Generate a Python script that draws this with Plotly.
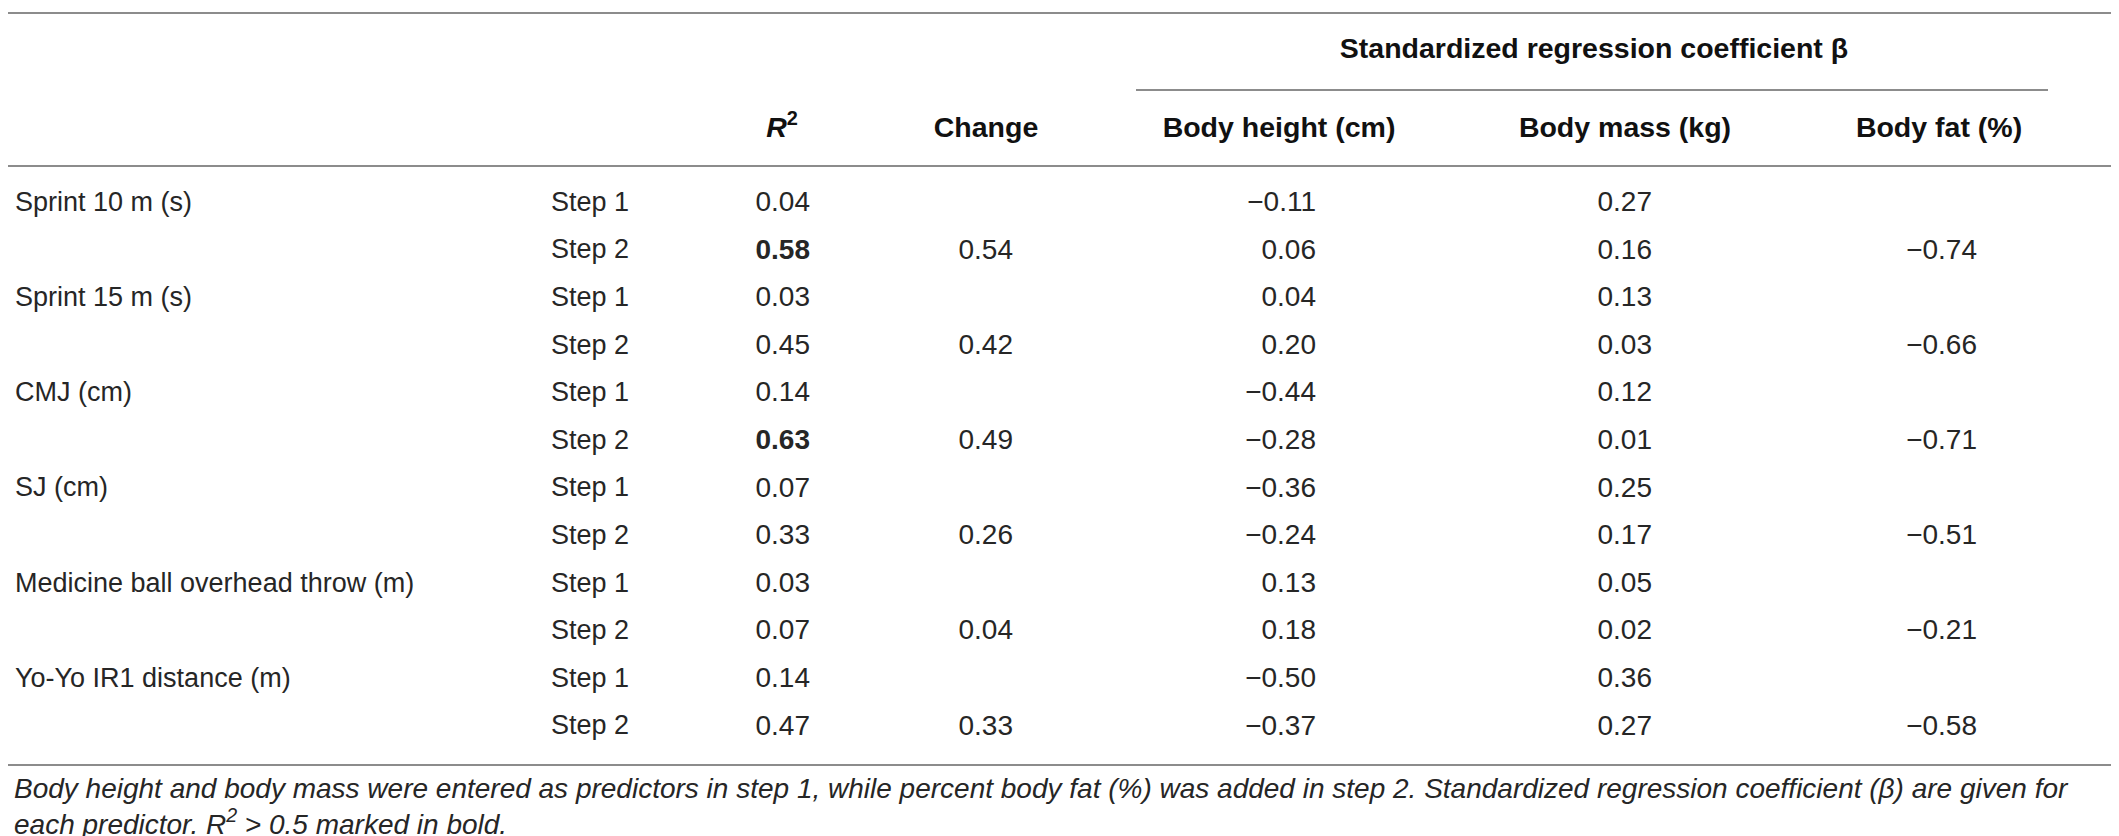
import plotly.graph_objects as go

# table content
measures = ["Sprint 10 m (s)", "Sprint 15 m (s)", "CMJ (cm)", "SJ (cm)",
            "Medicine ball overhead throw (m)", "Yo-Yo IR1 distance (m)"]
steps = ["Step 1", "Step 2"] * 6
r2 = [0.04, 0.58, 0.03, 0.45, 0.14, 0.63, 0.07, 0.33, 0.03, 0.07, 0.14, 0.47]
change = [None, 0.54, None, 0.42, None, 0.49, None, 0.26, None, 0.04, None, 0.33]
beta_height = [-0.11, 0.06, 0.04, 0.20, -0.44, -0.28, -0.36, -0.24, 0.13, 0.18, -0.50, -0.37]
beta_mass = [0.27, 0.16, 0.13, 0.03, 0.12, 0.01, 0.25, 0.17, 0.05, 0.02, 0.36, 0.27]
beta_fat = [None, -0.74, None, -0.66, None, -0.71, None, -0.51, None, -0.21, None, -0.58]

group_header = "Standardized regression coefficient \u03b2"
col_headers = ["<i>R</i><sup>2</sup>", "Change", "Body height (cm)", "Body mass (kg)", "Body fat (%)"]
footnote = [
    "Body height and body mass were entered as predictors in step 1, while percent body fat (%) was added in step 2. "
    "Standardized regression coefficient (\u03b2) are given for",
    "each predictor. <i>R</i><sup>2</sup> > 0.5 marked in bold.",
]

W, H = 2119, 836
FONT = "Liberation Sans"
TXT = "#262626"
LINE = "#8c8c8c"

# layout geometry (pixels)
row0, row_h = 196, 47.6
x_label, x_step = 7, 543
x_r2, x_change, x_height, x_mass, x_fat = 802, 1005, 1308, 1644, 1969
hdr_centers = [774, 978, 1271, 1617, 1931]


def fmt(v, bold=False):
    s = f"{v:.2f}".replace("-", "\u2212")
    return f"<b>{s}</b>" if bold else s


rows_y = [row0 + i * row_h for i in range(len(steps))]

fig = go.Figure()


def add_col(xpos, texts, ys, pos, size=27, color=TXT):
    fig.add_trace(go.Scatter(
        x=[xpos] * len(texts), y=ys, text=texts, mode="text",
        textposition=pos, textfont=dict(family=FONT, size=size, color=color),
        hoverinfo="skip", showlegend=False, cliponaxis=False,
    ))


def column(values, bold_rule=None):
    ys, txt = [], []
    for y, v in zip(rows_y, values):
        if v is None:
            continue
        ys.append(y)
        txt.append(fmt(v, bold_rule(v) if bold_rule else False))
    return txt, ys


# measure labels only on the Step 1 rows
add_col(x_label, measures, rows_y[::2], "middle right")
add_col(x_step, steps, rows_y, "middle right")
for xpos, vals, rule in [(x_r2, r2, lambda v: v > 0.5), (x_change, change, None),
                         (x_height, beta_height, None), (x_mass, beta_mass, None),
                         (x_fat, beta_fat, None)]:
    t, ys = column(vals, rule)
    add_col(xpos, t, ys, "middle left", size=28)

# headers
fig.add_trace(go.Scatter(
    x=hdr_centers, y=[122] * len(col_headers),
    text=[f"<b>{h}</b>" for h in col_headers], mode="text",
    textposition="middle center", textfont=dict(family=FONT, size=28.5, color="#111"),
    hoverinfo="skip", showlegend=False, cliponaxis=False,
))
fig.add_trace(go.Scatter(
    x=[1586], y=[43], text=[f"<b>{group_header}</b>"], mode="text",
    textposition="middle center", textfont=dict(family=FONT, size=28.5, color="#111"),
    hoverinfo="skip", showlegend=False, cliponaxis=False,
))

# horizontal rules
for y, x0, x1 in [(5, 0, 2113), (82, 1128, 2040), (158, 0, 2113), (757, 0, 2113)]:
    fig.add_shape(type="line", x0=x0, x1=x1, y0=y, y1=y, xref="x", yref="y",
                  line=dict(color=LINE, width=2))

# footnote, two lines in one text block
fig.add_trace(go.Scatter(
    x=[6], y=[801], text=["<i>" + "<br>".join(footnote) + "</i>"], mode="text",
    textposition="middle right", textfont=dict(family=FONT, size=28, color=TXT),
    hoverinfo="skip", showlegend=False, cliponaxis=False,
))

fig.update_xaxes(range=[0, W], visible=False, fixedrange=True)
fig.update_yaxes(range=[H, 0], visible=False, fixedrange=True)
fig.update_layout(
    width=W, height=H, margin=dict(l=0, r=0, t=0, b=0),
    plot_bgcolor="white", paper_bgcolor="white",
)

fig.write_html("out.html")
